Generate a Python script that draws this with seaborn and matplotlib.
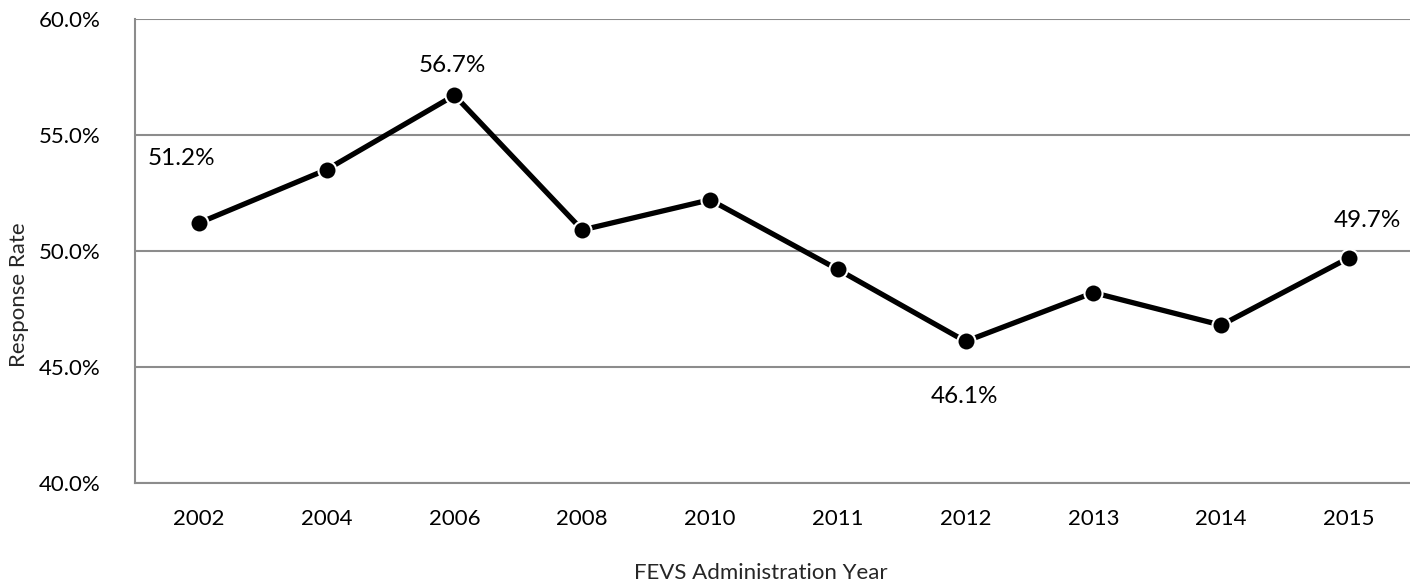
import matplotlib
matplotlib.use("Agg")
import matplotlib.pyplot as plt
import seaborn as sns
import pandas as pd
from matplotlib.ticker import FuncFormatter

years = ["2002", "2004", "2006", "2008", "2010", "2011", "2012", "2013", "2014", "2015"]
rates = [51.2, 53.5, 56.7, 50.9, 52.2, 49.2, 46.1, 48.2, 46.8, 49.7]
labeled = {"2002": (-17, 64), "2006": (-2, 30), "2012": (-1, -55), "2015": (18, 37)}

sns.set_theme(style="white")
plt.rcParams['font.family'] = ['Lato', 'DejaVu Sans']

df = pd.DataFrame({"Year": years, "Rate": rates})

fig = plt.figure(figsize=(14.10, 5.87), dpi=100)
ax = fig.add_axes([135/1410, 1-483/587, 1-135/1410 + 0.002, (483-18.7)/587])

sns.lineplot(data=df, x="Year", y="Rate", ax=ax, color="black", linewidth=3.8,
             marker="o", markersize=13, markerfacecolor="black",
             markeredgecolor="white", markeredgewidth=1.5, zorder=3)

fs = 16
ax.set_ylim(40, 60)
ax.set_xlim(-0.5, len(years) - 0.5)
ax.set_yticks([40, 45, 50, 55, 60])
ax.yaxis.set_major_formatter(FuncFormatter(lambda v, p: f"{v:.1f}%"))
ax.yaxis.grid(True, color="#8c8c8c", linewidth=1.5)
ax.xaxis.grid(False)
for s in ["top", "right"]:
    ax.spines[s].set_visible(False)
for s in ["left", "bottom"]:
    ax.spines[s].set_color("#8c8c8c")
    ax.spines[s].set_linewidth(1.5)
ax.tick_params(axis="both", length=0, labelsize=fs, colors="black")
ax.tick_params(axis="y", pad=25)
ax.tick_params(axis="x", pad=19)

ax.set_ylabel("Response Rate", fontsize=fs)
ax.yaxis.set_label_coords((29 - 135) / 1275, (483 - 295) / 464.3)
ax.set_xlabel("FEVS Administration Year", fontsize=fs)
ax.xaxis.set_label_coords((759 - 135) / 1275, (483 - 563) / 464.3)

for i, (y, r) in enumerate(zip(years, rates)):
    if y in labeled:
        dx, dy = labeled[y]
        ax.annotate(f"{r:.1f}%", xy=(i, r), xytext=(dx, dy), textcoords="offset pixels",
                    ha="center", va="center", fontsize=17.5, color="black")

fig.savefig("out.png", dpi=100)
